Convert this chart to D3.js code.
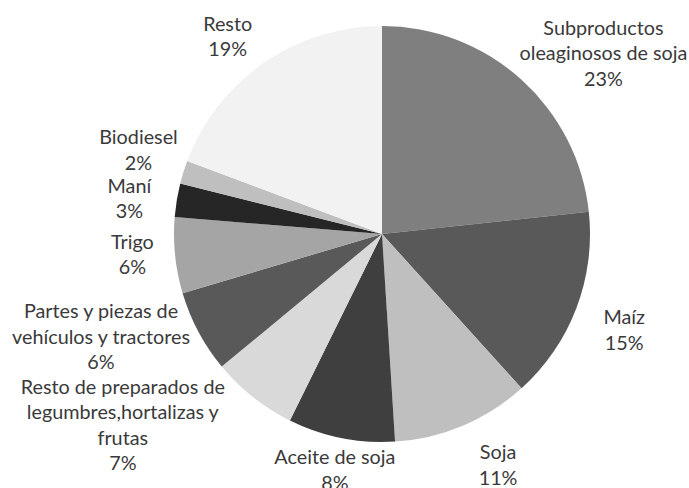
<!DOCTYPE html>
<html>
<head>
<meta charset="utf-8">
<script src="https://cdn.jsdelivr.net/npm/d3@7"></script>
<style>
  html, body { margin: 0; padding: 0; background: #fff; }
  svg { display: block; }
  text { font-family: "Lato", "Open Sans", sans-serif; fill: #3a3a3a; }
</style>
</head>
<body>
<svg id="chart" width="689" height="488"></svg>
<script>
// ---- data ----
const categories = [
  "Subproductos oleaginosos de soja",
  "Maíz",
  "Soja",
  "Aceite de soja",
  "Resto de preparados de legumbres,hortalizas y frutas",
  "Partes y piezas de vehículos y tractores",
  "Trigo",
  "Maní",
  "Biodiesel",
  "Resto"
];
const labelLines = [
  ["Subproductos", "oleaginosos de soja"],
  ["Maíz"],
  ["Soja"],
  ["Aceite de soja"],
  ["Resto de preparados de", "legumbres,hortalizas y", "frutas"],
  ["Partes y piezas de", "vehículos y tractores"],
  ["Trigo"],
  ["Maní"],
  ["Biodiesel"],
  ["Resto"]
];
const values = [23.3, 15.0, 10.7, 8.3, 6.7, 6.4, 5.9, 2.6, 1.8, 19.3];
const colors = ["#7f7f7f", "#595959", "#bfbfbf", "#3f3f3f", "#d9d9d9",
                "#595959", "#a5a5a5", "#262626", "#bfbfbf", "#f2f2f2"];
// label nudges (px) relative to the default label ring position
const labelNudge = [[51, 9], [4, 5], [17, -4], [3, -14], [-101, -9],
                    [-56, -17], [4, -6], [-1, 6], [0, -8], [-9, 12]];

// ---- drawing ----
const svg = d3.select("#chart");
const cx = 382, cy = 234, R = 208, labelR = 255, lineH = 25.5, fontSize = 19.8;

const total = d3.sum(values);
const pie = d3.pie().sort(null).value(d => d)(values);
const arc = d3.arc().innerRadius(0).outerRadius(R);
const labelArc = d3.arc().innerRadius(labelR).outerRadius(labelR);

const g = svg.append("g").attr("transform", `translate(${cx},${cy})`);

g.selectAll("path.slice")
  .data(pie)
  .join("path")
  .attr("class", "slice")
  .attr("d", arc)
  .attr("fill", (d, i) => colors[i]);

const labels = g.selectAll("g.label")
  .data(pie)
  .join("g")
  .attr("class", "label")
  .attr("transform", (d, i) => {
    const [x, y] = labelArc.centroid(d);
    return `translate(${x + labelNudge[i][0]},${y + labelNudge[i][1]})`;
  });

labels.each(function(d, i) {
  const lines = labelLines[i].concat([Math.round(values[i] / total * 100) + "%"]);
  const n = lines.length;
  const t = d3.select(this).append("text")
    .attr("text-anchor", "middle")
    .attr("font-size", fontSize);
  lines.forEach((ln, k) => {
    t.append("tspan")
      .attr("x", 0)
      .attr("y", (k - (n - 1) / 2) * lineH)
      .attr("dy", "0.35em")
      .text(ln);
  });
});
</script>
</body>
</html>
